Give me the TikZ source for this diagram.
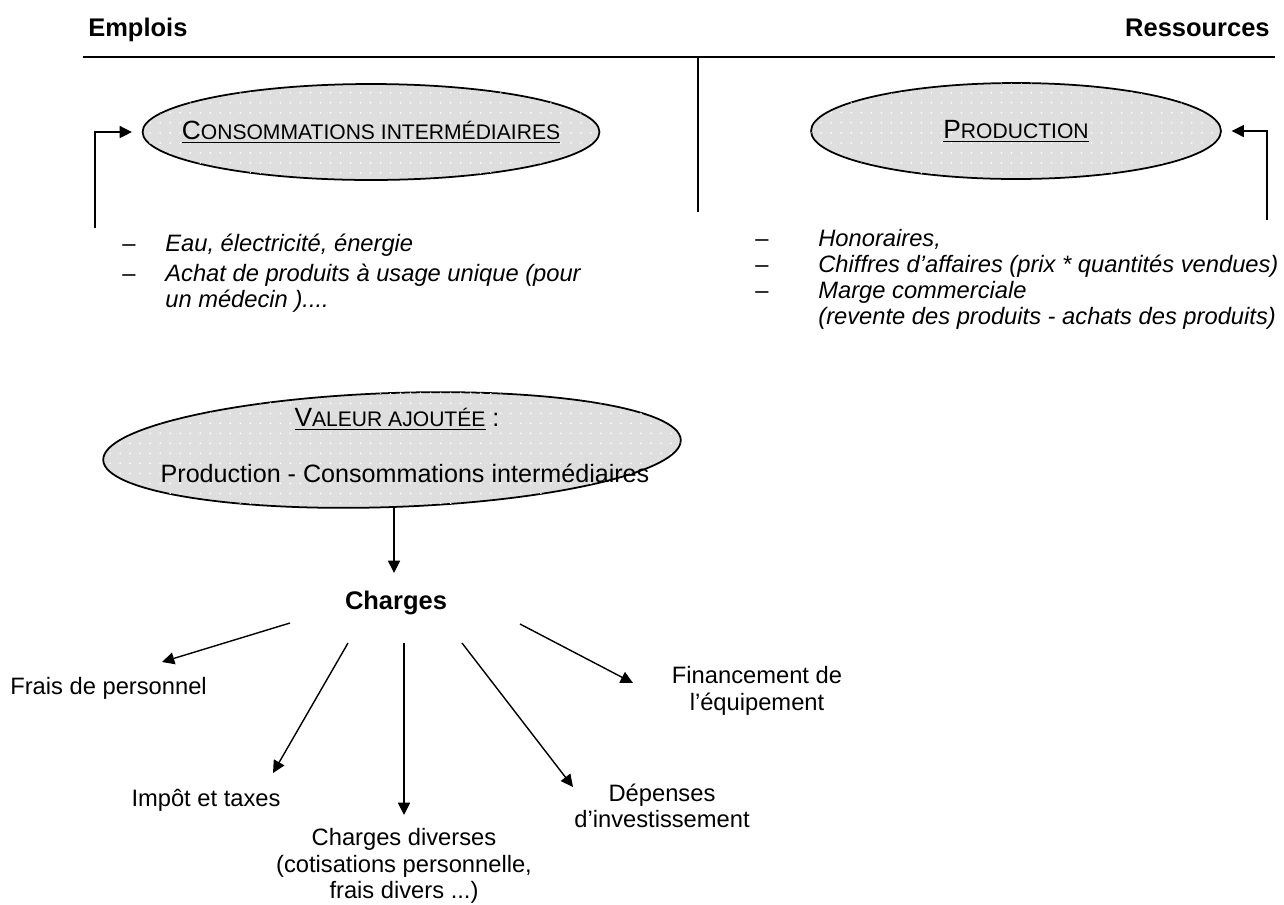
\documentclass[tikz,border=0pt]{standalone}
\usepackage{fontspec}
\setmainfont{Liberation Sans}
\usepackage{xcolor}
\usepackage{tikz}
\usetikzlibrary{arrows.meta,positioning,shapes.geometric,patterns.meta}
\definecolor{vaedge}{RGB}{0,0,0}
\definecolor{vafill}{RGB}{222,222,222}
\newcommand{\petitcap}[2]{{\fontsize{15}{17}\selectfont #1}{\fontsize{12}{14}\selectfont #2}}
\tikzset{
  bulle/.style={
    ellipse, draw=vaedge, line width=1pt, fill=vafill, inner sep=0pt,
    postaction={pattern={Dots[distance=5.7pt,radius=0.5pt]}, pattern color=white}
  },
  titre/.style={font=\fontsize{14.5}{17}\selectfont\bfseries, inner sep=0pt},
  txt/.style={font=\fontsize{13.5}{15}\selectfont, inner sep=0pt, align=center},
  gros/.style={font=\fontsize{14.3}{16}\selectfont, inner sep=0pt},
  liste/.style={font=\fontsize{13.5}{15}\selectfont\itshape, inner sep=0pt, anchor=base west},
  tiret/.style={font=\fontsize{13.5}{15}\selectfont, inner sep=0pt, anchor=base},
  arr/.style={-{Triangle[length=7pt,width=6.8pt]}, draw=vaedge, line width=0.8pt},
  trait/.style={draw=vaedge, line width=0.9pt},
  every picture/.append style={line join=miter}
}

\begin{document}
\begin{tikzpicture}[x=0.02cm,y=-0.02cm]
  \useasboundingbox (0,0) rectangle (1284,904);
  % en-tete
  \node[titre, anchor=base west] (emplois) at (88,36) {Emplois};
  \node[titre, anchor=base east] (ressources) at (1270,36) {Ressources};
  \coordinate (hg) at (83,57);
  \coordinate (hd) at (1275,57);
  \coordinate (vh) at (698,57);
  \coordinate (vb) at (698,212);
  \draw[trait] (hg) -- (hd);
  \draw[trait] (vh) -- (vb);

  % consommations intermediaires
  \node[bulle, minimum width=9.14cm, minimum height=1.92cm] (ci) at (371,132) {};
  \node[inner sep=0pt] (citxt) at (ci) {\underline{\petitcap{C}{ONSOMMATIONS INTERMÉDIAIRES}}};
  \coordinate (cidep) at (95,228);
  \draw[arr] (cidep) |- ([xshift=-5.5pt]ci.west);

  % production
  \node[bulle, minimum width=8.2cm, minimum height=1.92cm] (prod) at (1016,131) {};
  \node[inner sep=0pt] (prodtxt) at (prod) {\underline{\petitcap{P}{RODUCTION}}};
  \coordinate (proddep) at (1267,220);
  \draw[arr] (proddep) |- ([xshift=5.5pt]prod.east);

  % listes
  \node[tiret] (d1) at (129,251) {–};
  \node[liste] (l1) at (165,251) {Eau, électricité, énergie};
  \node[tiret] (d2) at (129,281) {–};
  \node[liste] (l2) at (165,281) {Achat de produits à usage unique (pour};
  \node[liste] (l3) at (165,307) {un médecin )....};
  \node[tiret] (d3) at (762,246) {–};
  \node[liste] (r1) at (818,246) {Honoraires,};
  \node[tiret] (d4) at (762,272) {–};
  \node[liste] (r2) at (818,272) {Chiffres d’affaires (prix * quantités vendues)};
  \node[tiret] (d5) at (762,298) {–};
  \node[liste] (r3) at (818,298) {Marge commerciale};
  \node[liste] (r4) at (818,324) {(revente des produits - achats des produits)};

  % valeur ajoutee
  \node[bulle, rotate=2, minimum width=11.56cm, minimum height=2.28cm] (va) at (392,450) {};
  \node[inner sep=0pt] (vatxt1) at (397,419) {\underline{\petitcap{V}{ALEUR AJOUTÉE}}\fontsize{14.3}{16}\selectfont{} :};
  \node[gros] (vatxt2) at (405,473) {Production - Consommations intermédiaires};

  % charges
  \node[titre] (charges) at (396,603) {Charges};
  \coordinate (vab) at (394,507);
  \coordinate (chh) at (394,573);
  \draw[arr] (vab) -- (chh);

  \node[txt, anchor=west] (frais) at (10,688) {Frais de personnel};
  \node[txt] (impot) at (206,800) {Impôt et taxes};
  \node[txt] (divers) at (404,866) {Charges diverses\\(cotisations personnelle,\\frais divers ...)};
  \node[txt] (invest) at (662,806) {Dépenses\\d’investissement};
  \node[txt] (finance) at (757,691) {Financement de\\l’équipement};

  \coordinate (c1) at (290,623);
  \coordinate (c2) at (348,643);
  \coordinate (c3) at (404,643);
  \coordinate (c4) at (462,643);
  \coordinate (c5) at (520,624);
  \coordinate (f1) at (162,662);
  \coordinate (f2) at (273,773);
  \coordinate (f3) at (404,815);
  \coordinate (f4) at (573,787);
  \coordinate (f5) at (633,683);
  \draw[arr] (c1) -- (f1);
  \draw[arr] (c2) -- (f2);
  \draw[arr] (c3) -- (f3);
  \draw[arr] (c4) -- (f4);
  \draw[arr] (c5) -- (f5);
\end{tikzpicture}
\end{document}
